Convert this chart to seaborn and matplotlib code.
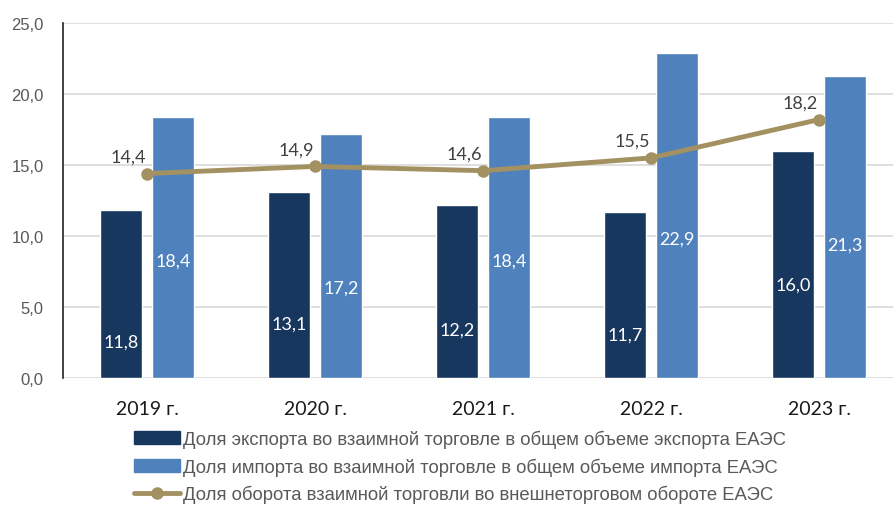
import matplotlib
matplotlib.use('Agg')
import matplotlib.pyplot as plt
import matplotlib.ticker as mticker
from matplotlib.patches import Patch
from matplotlib.lines import Line2D
import numpy as np
import pandas as pd
import seaborn as sns

# data
years = ['2019 г.', '2020 г.', '2021 г.', '2022 г.', '2023 г.']
export_share = [11.8, 13.1, 12.2, 11.7, 16.0]
import_share = [18.4, 17.2, 18.4, 22.9, 21.3]
turnover_share = [14.4, 14.9, 14.6, 15.5, 18.2]
series_names = ['Доля экспорта во взаимной торговле в общем объеме экспорта ЕАЭС',
                'Доля импорта во взаимной торговле в общем объеме импорта ЕАЭС',
                'Доля оборота взаимной торговли во внешнеторговом обороте ЕАЭС']

# where the white labels sit inside the bars (fraction of bar height)
export_lbl_frac = [0.22, 0.29, 0.28, 0.26, 0.41]
import_lbl_frac = [0.45, 0.37, 0.45, 0.43, 0.44]

dark = '#17375e'
light = '#4f81bd'
gold = '#a39161'

df = pd.DataFrame({
    'year': years * 2,
    'value': export_share + import_share,
    'series': [series_names[0]] * 5 + [series_names[1]] * 5,
})

sns.set_style('white')
plt.rcParams['font.family'] = ['Liberation Sans', 'DejaVu Sans']

fig = plt.figure(figsize=(8.93, 5.06), dpi=100)
ax = fig.add_axes([63 / 893, 127 / 506, 840 / 893, 355 / 506])

sns.barplot(data=df, x='year', y='value', hue='series', palette=[dark, light],
            width=0.62, gap=0.21, ax=ax, legend=False, saturation=1)

x = np.arange(len(years))
sns.lineplot(x=x, y=turnover_share, color=gold, lw=3.5, marker='o', markersize=9,
             markeredgewidth=0, ax=ax, legend=False)

# labels
off = 0.155
for i in range(len(years)):
    ax.text(x[i] - off, export_share[i] * export_lbl_frac[i], f'{export_share[i]:.1f}'.replace('.', ','),
            ha='center', va='center', color='white', fontsize=13, family='Lato')
    ax.text(x[i] + off, import_share[i] * import_lbl_frac[i], f'{import_share[i]:.1f}'.replace('.', ','),
            ha='center', va='center', color='white', fontsize=13, family='Lato')
    ax.annotate(f'{turnover_share[i]:.1f}'.replace('.', ','), (x[i], turnover_share[i]),
                xytext=(-19, 17), textcoords='offset pixels', ha='center', va='center',
                color='#404040', fontsize=13, family='Lato')

ax.set_ylim(0, 25)
ax.set_xlim(-0.5, 4.5)
ax.set_yticks(np.arange(0, 26, 5))
ax.yaxis.set_major_formatter(mticker.FuncFormatter(lambda v, p: f'{v:.1f}'.replace('.', ',')))
ax.grid(axis='y', color='#d9d9d9', lw=1.2)
ax.set_axisbelow(True)
for s in ['top', 'right', 'bottom']:
    ax.spines[s].set_visible(False)
ax.spines['left'].set_color('#222222')
ax.spines['left'].set_linewidth(1.2)
ax.set_xlabel('')
ax.set_ylabel('')
ax.tick_params(axis='y', labelsize=12, labelcolor='#595959', length=0, pad=14)
ax.tick_params(axis='x', length=0, pad=16)
for t in ax.get_xticklabels():
    t.set_family('Lato')
    t.set_fontsize(14)
    t.set_color('#1a1a1a')

handles = [Patch(color=dark), Patch(color=light),
           Line2D([], [], color=gold, lw=3.5, marker='o', markersize=8)]
fig.legend(handles, series_names, loc='upper left', bbox_to_anchor=(134 / 893, 1 - 431 / 506),
           frameon=False, fontsize=13.3, labelcolor='#595959', handlelength=2.5,
           handletextpad=0.15, labelspacing=0.5, borderpad=0, borderaxespad=0)

fig.savefig('out.png', dpi=100)
